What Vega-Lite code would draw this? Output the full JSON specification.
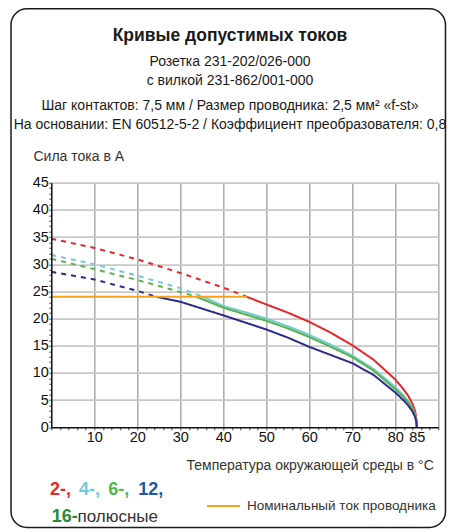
{
  "$schema": "https://vega.github.io/schema/vega-lite/v6.json",
  "width": 387,
  "height": 244.6,
  "autosize": {"type": "none"},
  "padding": {"left": 51.3, "top": 182.7, "right": 17.7, "bottom": 104.7},
  "background": "white",
  "config": {"view": {"stroke": null}},
  "datasets": {
    "curves": [
      {"series": "2", "part": "dashed", "t": 0, "i": 34.7},
      {"series": "2", "part": "dashed", "t": 10, "i": 33.0},
      {"series": "2", "part": "dashed", "t": 20, "i": 30.9},
      {"series": "2", "part": "dashed", "t": 30, "i": 28.4},
      {"series": "2", "part": "dashed", "t": 40, "i": 25.7},
      {"series": "2", "part": "dashed", "t": 45.5, "i": 24.0},
      {"series": "2", "part": "solid", "t": 45.5, "i": 24.0},
      {"series": "2", "part": "solid", "t": 50, "i": 22.6},
      {"series": "2", "part": "solid", "t": 55, "i": 21.1},
      {"series": "2", "part": "solid", "t": 60, "i": 19.4},
      {"series": "2", "part": "solid", "t": 65, "i": 17.4},
      {"series": "2", "part": "solid", "t": 70, "i": 15.1},
      {"series": "2", "part": "solid", "t": 75, "i": 12.4},
      {"series": "2", "part": "solid", "t": 80, "i": 8.8},
      {"series": "2", "part": "solid", "t": 82, "i": 6.9},
      {"series": "2", "part": "solid", "t": 83, "i": 5.8},
      {"series": "2", "part": "solid", "t": 84, "i": 4.3},
      {"series": "2", "part": "solid", "t": 84.6, "i": 3.0},
      {"series": "2", "part": "solid", "t": 84.9, "i": 1.6},
      {"series": "2", "part": "solid", "t": 85, "i": 0},
      {"series": "4", "part": "dashed", "t": 0, "i": 31.7},
      {"series": "4", "part": "dashed", "t": 10, "i": 30.0},
      {"series": "4", "part": "dashed", "t": 20, "i": 27.9},
      {"series": "4", "part": "dashed", "t": 30, "i": 25.6},
      {"series": "4", "part": "dashed", "t": 35.3, "i": 24.0},
      {"series": "4", "part": "solid", "t": 35.3, "i": 24.0},
      {"series": "4", "part": "solid", "t": 40, "i": 22.3},
      {"series": "4", "part": "solid", "t": 45, "i": 21.2},
      {"series": "4", "part": "solid", "t": 50, "i": 20.0},
      {"series": "4", "part": "solid", "t": 55, "i": 18.6},
      {"series": "4", "part": "solid", "t": 60, "i": 17.0},
      {"series": "4", "part": "solid", "t": 65, "i": 15.2},
      {"series": "4", "part": "solid", "t": 70, "i": 13.2},
      {"series": "4", "part": "solid", "t": 75, "i": 10.7},
      {"series": "4", "part": "solid", "t": 80, "i": 7.4},
      {"series": "4", "part": "solid", "t": 82, "i": 5.8},
      {"series": "4", "part": "solid", "t": 83, "i": 4.8},
      {"series": "4", "part": "solid", "t": 84, "i": 3.5},
      {"series": "4", "part": "solid", "t": 84.6, "i": 2.3},
      {"series": "4", "part": "solid", "t": 84.9, "i": 1.2},
      {"series": "4", "part": "solid", "t": 85, "i": 0},
      {"series": "6", "part": "dashed", "t": 0, "i": 31.0},
      {"series": "6", "part": "dashed", "t": 10, "i": 29.1},
      {"series": "6", "part": "dashed", "t": 20, "i": 27.1},
      {"series": "6", "part": "dashed", "t": 30, "i": 24.9},
      {"series": "6", "part": "dashed", "t": 33.8, "i": 24.0},
      {"series": "6", "part": "solid", "t": 33.8, "i": 24.0},
      {"series": "6", "part": "solid", "t": 40, "i": 22.0},
      {"series": "6", "part": "solid", "t": 45, "i": 20.8},
      {"series": "6", "part": "solid", "t": 50, "i": 19.6},
      {"series": "6", "part": "solid", "t": 55, "i": 18.2},
      {"series": "6", "part": "solid", "t": 60, "i": 16.6},
      {"series": "6", "part": "solid", "t": 65, "i": 14.8},
      {"series": "6", "part": "solid", "t": 70, "i": 12.9},
      {"series": "6", "part": "solid", "t": 75, "i": 10.4},
      {"series": "6", "part": "solid", "t": 80, "i": 7.0},
      {"series": "6", "part": "solid", "t": 82, "i": 5.5},
      {"series": "6", "part": "solid", "t": 83, "i": 4.6},
      {"series": "6", "part": "solid", "t": 84, "i": 3.3},
      {"series": "6", "part": "solid", "t": 84.6, "i": 2.1},
      {"series": "6", "part": "solid", "t": 84.9, "i": 1.1},
      {"series": "6", "part": "solid", "t": 85, "i": 0},
      {"series": "12/16", "part": "dashed", "t": 0, "i": 28.6},
      {"series": "12/16", "part": "dashed", "t": 10, "i": 27.2},
      {"series": "12/16", "part": "dashed", "t": 20, "i": 25.1},
      {"series": "12/16", "part": "dashed", "t": 24.5, "i": 24.0},
      {"series": "12/16", "part": "solid", "t": 24.5, "i": 24.0},
      {"series": "12/16", "part": "solid", "t": 30, "i": 23.1},
      {"series": "12/16", "part": "solid", "t": 40, "i": 20.6},
      {"series": "12/16", "part": "solid", "t": 50, "i": 18.0},
      {"series": "12/16", "part": "solid", "t": 55, "i": 16.5},
      {"series": "12/16", "part": "solid", "t": 60, "i": 14.8},
      {"series": "12/16", "part": "solid", "t": 65, "i": 13.3},
      {"series": "12/16", "part": "solid", "t": 70, "i": 11.8},
      {"series": "12/16", "part": "solid", "t": 75, "i": 9.6},
      {"series": "12/16", "part": "solid", "t": 80, "i": 6.4},
      {"series": "12/16", "part": "solid", "t": 82, "i": 4.9},
      {"series": "12/16", "part": "solid", "t": 83, "i": 4.0},
      {"series": "12/16", "part": "solid", "t": 84, "i": 2.9},
      {"series": "12/16", "part": "solid", "t": 84.6, "i": 1.9},
      {"series": "12/16", "part": "solid", "t": 84.9, "i": 1.0},
      {"series": "12/16", "part": "solid", "t": 85, "i": 0}
    ],
    "nominal": [
      {"t": 0, "i": 24},
      {"t": 45.5, "i": 24}
    ],
    "texts": [
      {"id": "h0", "txt": "Кривые допустимых токов"},
      {"id": "h1", "txt": "Розетка 231-202/026-000"},
      {"id": "h2", "txt": "с вилкой 231-862/001-000"},
      {"id": "h3", "txt": "Шаг контактов: 7,5 мм / Размер проводника: 2,5 мм² «f-st»"},
      {"id": "h4", "txt": "На основании: EN 60512-5-2 / Коэффициент преобразователя: 0,8"},
      {"id": "l2", "txt": "2-,"},
      {"id": "l4", "txt": "4-,"},
      {"id": "l6", "txt": "6-,"},
      {"id": "l12", "txt": "12,"},
      {"id": "l16", "txt": "16-"},
      {"id": "lp", "txt": "полюсные"},
      {"id": "ln", "txt": "Номинальный ток проводника"}
    ],
    "frame": [{"id": "frame"}]
  },
  "layer": [
    {
      "data": {"name": "frame"},
      "mark": {"type": "rect", "filled": false, "stroke": "#1a1a1a", "strokeWidth": 1.5, "cornerRadius": 16},
      "encoding": {
        "x": {"datum": -9.37, "type": "quantitative", "scale": {"domain": [0, 90], "nice": false, "zero": false},
          "axis": {"orient": "bottom", "values": [0,2,4,6,8,10,12,14,16,18,20,22,24,26,28,30,32,34,36,38,40,42,44,46,48,50,52,54,56,58,60,62,64,66,68,70,72,74,76,78,80,82,84,86,88,90],
            "labels": false, "domain": false, "grid": false, "ticks": true, "tickSize": 2.5, "tickWidth": 1, "tickColor": "#444", "title": null, "zindex": 1}},
        "x2": {"datum": 91.67},
        "y": {"datum": 76.99, "type": "quantitative", "scale": {"domain": [0, 45], "nice": false, "zero": false},
          "axis": {"orient": "left", "values": [0,1,2,3,4,5,6,7,8,9,10,11,12,13,14,15,16,17,18,19,20,21,22,23,24,25,26,27,28,29,30,31,32,33,34,35,36,37,38,39,40,41,42,43,44,45],
            "labels": false, "domain": false, "grid": false, "ticks": true, "tickSize": 2.5, "tickWidth": 1, "tickColor": "#444", "title": null, "zindex": 1}},
        "y2": {"datum": -18.42}
      }
    },
    {
      "data": {"name": "curves"},
      "mark": {"type": "line", "strokeWidth": 2, "interpolate": "linear"},
      "encoding": {
        "x": {"field": "t", "type": "quantitative", "scale": {"domain": [0, 90], "nice": false, "zero": false},
          "axis": {"orient": "bottom", "values": [10,20,30,40,50,60,70,80,90], "grid": true, "gridColor": "#a9a9a9", "gridWidth": 1.5,
            "labels": false, "ticks": false, "domain": false, "title": null, "zindex": 0}},
        "y": {"field": "i", "type": "quantitative", "scale": {"domain": [0, 45], "nice": false, "zero": false},
          "axis": {"orient": "left", "values": [5,10,15,20,25,30,35,40,45], "grid": true, "gridColor": "#c8c8c8", "gridWidth": 1.8,
            "labels": false, "ticks": false, "domain": false, "title": null, "zindex": 0}},
        "color": {"field": "series", "type": "nominal", "legend": null,
          "scale": {"domain": ["2", "4", "6", "12/16"], "range": ["#e8262a", "#72cbd6", "#58b34a", "#2d2c8c"]}},
        "strokeDash": {"field": "part", "type": "nominal", "legend": null,
          "scale": {"domain": ["dashed", "solid"], "range": [[5, 5], [1, 0]]}},
        "detail": {"field": "series"}
      }
    },
    {
      "data": {"name": "nominal"},
      "mark": {"type": "line", "color": "#f7a21b", "strokeWidth": 2},
      "encoding": {
        "x": {"field": "t", "type": "quantitative", "scale": {"domain": [0, 90], "nice": false, "zero": false},
          "axis": {"orient": "bottom", "values": [10,20,30,40,50,60,70,80,85], "grid": false, "ticks": false,
            "domain": true, "domainColor": "#111", "domainWidth": 1.5,
            "labels": true, "labelFont": "Liberation Sans", "labelFontSize": 14.5, "labelColor": "#111", "labelPadding": 3.5,
            "labelOverlap": false, "labelFlush": false,
            "title": "Температура окружающей среды в °C", "titleFont": "Liberation Sans", "titleFontSize": 14, "titleFontWeight": "normal",
            "titleColor": "#333", "titleAlign": "right", "titleAnchor": "end", "titleBaseline": "alphabetic", "titleX": 382, "titleY": 42, "zindex": 1}},
        "y": {"field": "i", "type": "quantitative", "scale": {"domain": [0, 45], "nice": false, "zero": false},
          "axis": {"orient": "left", "values": [0,5,10,15,20,25,30,35,40,45], "grid": false, "ticks": false,
            "domain": true, "domainColor": "#111", "domainWidth": 1.5,
            "labels": true, "labelFont": "Liberation Sans", "labelFontSize": 14.5, "labelColor": "#111", "labelPadding": 3,
            "labelOverlap": false, "labelFlush": false,
            "title": "Сила тока в А", "titleFont": "Liberation Sans", "titleFontSize": 14, "titleFontWeight": "normal",
            "titleColor": "#333", "titleAngle": 0, "titleAlign": "left", "titleAnchor": "start", "titleBaseline": "alphabetic", "titleX": -18.3, "titleY": -22.7, "zindex": 1}}
      }
    },
    {
      "data": {"name": "texts"},
      "transform": [{"filter": "datum.id === 'h0'"}],
      "mark": {"type": "text", "font": "Liberation Sans", "fontSize": 17.5, "fontWeight": "bold", "align": "center", "baseline": "alphabetic", "color": "#1a1a1a"},
      "encoding": {"text": {"field": "txt"}, "x": {"datum": 41.56, "axis": null}, "y": {"datum": 71.07, "axis": null}}
    },
    {
      "data": {"name": "texts"},
      "transform": [{"filter": "datum.id === 'h1'"}],
      "mark": {"type": "text", "font": "Liberation Sans", "fontSize": 14, "align": "center", "baseline": "alphabetic", "color": "#1a1a1a"},
      "encoding": {"text": {"field": "txt"}, "x": {"datum": 41.56, "axis": null}, "y": {"datum": 66.47, "axis": null}}
    },
    {
      "data": {"name": "texts"},
      "transform": [{"filter": "datum.id === 'h2'"}],
      "mark": {"type": "text", "font": "Liberation Sans", "fontSize": 14, "align": "center", "baseline": "alphabetic", "color": "#1a1a1a"},
      "encoding": {"text": {"field": "txt"}, "x": {"datum": 41.56, "axis": null}, "y": {"datum": 62.92, "axis": null}}
    },
    {
      "data": {"name": "texts"},
      "transform": [{"filter": "datum.id === 'h3'"}],
      "mark": {"type": "text", "font": "Liberation Sans", "fontSize": 14, "align": "center", "baseline": "alphabetic", "color": "#1a1a1a"},
      "encoding": {"text": {"field": "txt"}, "x": {"datum": 41.56, "axis": null}, "y": {"datum": 58.33, "axis": null}}
    },
    {
      "data": {"name": "texts"},
      "transform": [{"filter": "datum.id === 'h4'"}],
      "mark": {"type": "text", "font": "Liberation Sans", "fontSize": 14, "align": "center", "baseline": "alphabetic", "color": "#1a1a1a"},
      "encoding": {"text": {"field": "txt"}, "x": {"datum": 41.56, "axis": null}, "y": {"datum": 54.96, "axis": null}}
    },
    {
      "data": {"name": "texts"},
      "transform": [{"filter": "datum.id === 'l2'"}],
      "mark": {"type": "text", "font": "Liberation Sans", "fontSize": 18, "fontWeight": "bold", "align": "left", "baseline": "alphabetic", "color": "#e8262a"},
      "encoding": {"text": {"field": "txt"}, "x": {"datum": -0.3, "axis": null}, "y": {"datum": -12.45, "axis": null}}
    },
    {
      "data": {"name": "texts"},
      "transform": [{"filter": "datum.id === 'l4'"}],
      "mark": {"type": "text", "font": "Liberation Sans", "fontSize": 18, "fontWeight": "bold", "align": "left", "baseline": "alphabetic", "color": "#6ccbdc"},
      "encoding": {"text": {"field": "txt"}, "x": {"datum": 6.44, "axis": null}, "y": {"datum": -12.45, "axis": null}}
    },
    {
      "data": {"name": "texts"},
      "transform": [{"filter": "datum.id === 'l6'"}],
      "mark": {"type": "text", "font": "Liberation Sans", "fontSize": 18, "fontWeight": "bold", "align": "left", "baseline": "alphabetic", "color": "#4fb848"},
      "encoding": {"text": {"field": "txt"}, "x": {"datum": 13.26, "axis": null}, "y": {"datum": -12.45, "axis": null}}
    },
    {
      "data": {"name": "texts"},
      "transform": [{"filter": "datum.id === 'l12'"}],
      "mark": {"type": "text", "font": "Liberation Sans", "fontSize": 18, "fontWeight": "bold", "align": "left", "baseline": "alphabetic", "color": "#2158a6"},
      "encoding": {"text": {"field": "txt"}, "x": {"datum": 20.23, "axis": null}, "y": {"datum": -12.45, "axis": null}}
    },
    {
      "data": {"name": "texts"},
      "transform": [{"filter": "datum.id === 'l16'"}],
      "mark": {"type": "text", "font": "Liberation Sans", "fontSize": 18, "fontWeight": "bold", "align": "left", "baseline": "alphabetic", "color": "#2a8a3c"},
      "encoding": {"text": {"field": "txt"}, "x": {"datum": 0.09, "axis": null}, "y": {"datum": -17.35, "axis": null}}
    },
    {
      "data": {"name": "texts"},
      "transform": [{"filter": "datum.id === 'lp'"}],
      "mark": {"type": "text", "font": "Liberation Sans", "fontSize": 17, "align": "left", "baseline": "alphabetic", "color": "#333"},
      "encoding": {"text": {"field": "txt"}, "x": {"datum": 6.1, "axis": null}, "y": {"datum": -17.35, "axis": null}}
    },
    {
      "data": {"name": "frame"},
      "mark": {"type": "rule", "color": "#f7a21b", "strokeWidth": 2},
      "encoding": {"x": {"datum": 36.2, "axis": null}, "x2": {"datum": 43.9}, "y": {"datum": -14.47, "axis": null}}
    },
    {
      "data": {"name": "texts"},
      "transform": [{"filter": "datum.id === 'ln'"}],
      "mark": {"type": "text", "font": "Liberation Sans", "fontSize": 13.5, "align": "left", "baseline": "middle", "color": "#333"},
      "encoding": {"text": {"field": "txt"}, "x": {"datum": 45.5, "axis": null}, "y": {"datum": -14.47, "axis": null}}
    }
  ],
  "resolve": {"axis": {"x": "independent", "y": "independent"}}
}
